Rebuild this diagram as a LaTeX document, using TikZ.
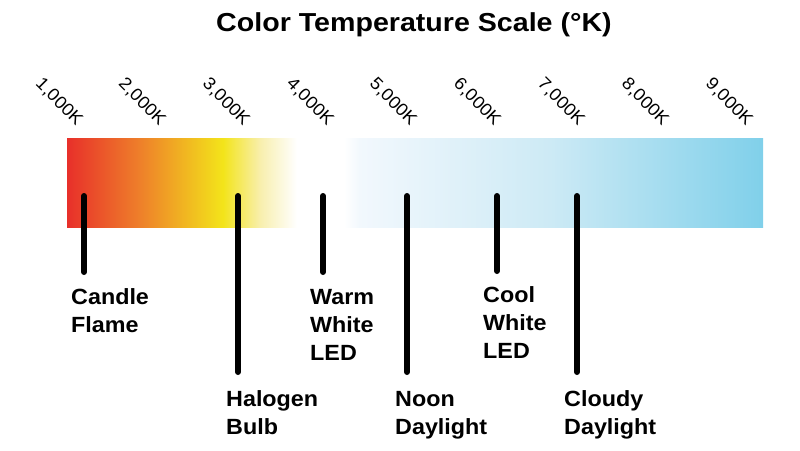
\documentclass[tikz,border=0pt]{standalone}
\usepackage{fontspec}
\setmainfont{Liberation Sans}
\newfontfamily\titlefont[FakeStretch=1.1]{Liberation Sans}
\newfontfamily\labelfont[FakeStretch=1.06]{Liberation Sans}
\newfontfamily\tickfont[FakeStretch=1.05]{Liberation Sans}
\definecolor{tA}{HTML}{E8302A}
\definecolor{tB}{HTML}{EE7F2A}
\definecolor{tC}{HTML}{F3E41A}
\definecolor{tD}{HTML}{F8EFAE}
\definecolor{tE}{HTML}{FFFFFF}
\definecolor{tF}{HTML}{F2F8FD}
\definecolor{tG}{HTML}{CDEAF5}
\definecolor{tH}{HTML}{80D0EA}
\pgfdeclarehorizontalshading{tempscale}{100bp}{%
  color(0bp)=(tA); color(25bp)=(tA); color(30.2bp)=(tB); color(36.2bp)=(tC);
  color(38.9bp)=(tD); color(41.5bp)=(tE); color(44.9bp)=(tE); color(46bp)=(tF);
  color(59.7bp)=(tG); color(75bp)=(tH); color(100bp)=(tH)}
\tikzset{
  marker/.style={line width=6pt, line cap=round, black},
  lbl/.style={anchor=base west, inner sep=0pt, align=left,
    font=\labelfont\bfseries\fontsize{22}{28}\selectfont},
  tick/.style={rotate=-45, inner sep=0pt, font=\tickfont\fontsize{17.5}{20}\selectfont},
  ttl/.style={inner sep=0pt, anchor=base, font=\titlefont\bfseries\fontsize{26}{30}\selectfont}
}
\begin{document}
\begin{tikzpicture}[x=1pt,y=-1pt]
\useasboundingbox[fill=white] (0,0) rectangle (800,450);
\node[ttl] (title) at (414,31) {Color Temperature Scale (°K)};
% ticks
\foreach \x/\t [count=\i] in {59/1,142/2,226/3,310/4,393/5,477/6,561/7,645/8,729/9}
  \node[tick] (tick\i) at (\x,102) {\t,000K};
% bar
\shade[shading=tempscale] (67,138) rectangle (763,227);
% labels (base = baseline of last line)
\node[lbl] (candle) at (71,332) {Candle\\Flame};
\node[lbl] (warm) at (310,360) {Warm\\White\\LED};
\node[lbl] (cool) at (483,358) {Cool\\White\\LED};
\node[lbl] (halogen) at (226,434) {Halogen\\Bulb};
\node[lbl] (noon) at (395,434) {Noon\\Daylight};
\node[lbl] (cloudy) at (564,434) {Cloudy\\Daylight};
% markers
\foreach \n/\x/\b in {candle/84/272, halogen/238/372, warm/323/272, noon/407/372, cool/497/271, cloudy/577/372}{
  \coordinate (\n top) at (\x,196);
  \coordinate (\n bot) at (\x,\b);
  \draw[marker] (\n top) -- (\n bot);
}
\end{tikzpicture}
\end{document}
